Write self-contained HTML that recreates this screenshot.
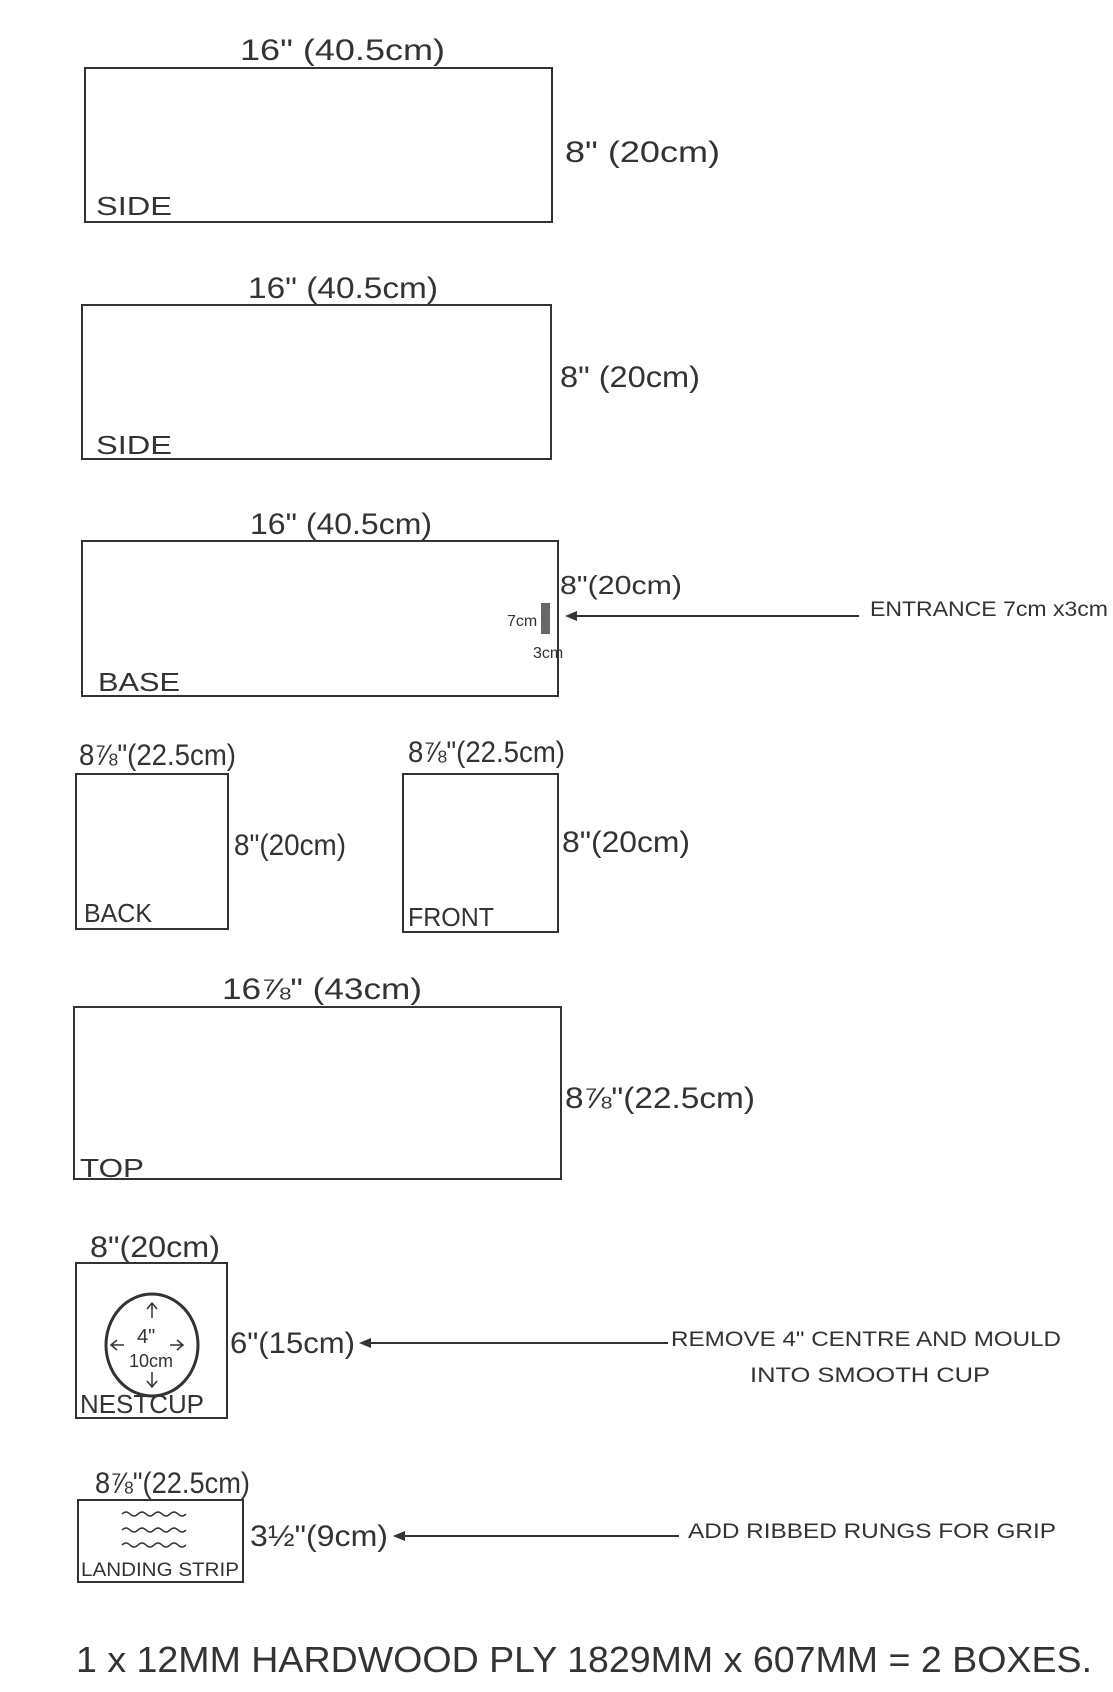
<!DOCTYPE html>
<html><head><style>html,body{margin:0;padding:0;background:#fff}svg{display:block}</style></head>
<body>
<svg width="1113" height="1692" viewBox="0 0 1113 1692" xmlns="http://www.w3.org/2000/svg" font-family="'Liberation Sans', sans-serif" fill="#333">
<g fill="none" stroke="#333" stroke-width="2">
<rect x="85" y="68" width="467" height="154"/>
<rect x="82" y="305" width="469" height="154"/>
<rect x="82" y="541" width="476" height="155"/>
<rect x="76" y="774" width="152" height="155"/>
<rect x="403" y="774" width="155" height="158"/>
<rect x="74" y="1007" width="487" height="172"/>
<rect x="76" y="1263" width="151" height="155"/>
<rect x="78" y="1500" width="165" height="82"/>
<ellipse cx="152" cy="1345" rx="46" ry="51" stroke-width="3"/>
<line x1="859" y1="616" x2="570" y2="616"/>
<line x1="668" y1="1343" x2="365" y2="1343"/>
<line x1="679" y1="1536" x2="398" y2="1536"/>
<path d="M122 1514 q4-4 8 0 t8 0 t8 0 t8 0 t8 0 t8 0 t8 0 t8 0 M122 1530 q4-4 8 0 t8 0 t8 0 t8 0 t8 0 t8 0 t8 0 t8 0 M122 1545 q4-4 8 0 t8 0 t8 0 t8 0 t8 0 t8 0 t8 0 t8 0" stroke-width="1.5"/>
<path d="M152 1318 v-14 M147 1309 l5-6 5 6 M152 1372 v14 M147 1381 l5 6 5-6 M124 1345 h-12 M117 1340 l-6 5 6 5 M170 1345 h12 M177 1340 l6 5-6 5" stroke-width="1.5"/>
</g>
<rect x="541" y="603" width="9" height="31" fill="#666"/>
<path d="M565 616 l12 -5 v10z"/>
<path d="M359 1343 l12 -5 v10z"/>
<path d="M393 1536 l12 -5 v10z"/>
<g font-size="30" lengthAdjust="spacingAndGlyphs">
<text x="240" y="60" textLength="205" lengthAdjust="spacingAndGlyphs">16" (40.5cm)</text>
<text x="565" y="162" textLength="155" lengthAdjust="spacingAndGlyphs">8" (20cm)</text>
<text x="248" y="298" textLength="190" lengthAdjust="spacingAndGlyphs">16" (40.5cm)</text>
<text x="560" y="387" textLength="140" lengthAdjust="spacingAndGlyphs">8" (20cm)</text>
<text x="250" y="534" textLength="182" lengthAdjust="spacingAndGlyphs">16" (40.5cm)</text>
<text x="79" y="765" textLength="157" lengthAdjust="spacingAndGlyphs">8⅞"(22.5cm)</text>
<text x="408" y="762" textLength="157" lengthAdjust="spacingAndGlyphs">8⅞"(22.5cm)</text>
<text x="234" y="855" textLength="112" lengthAdjust="spacingAndGlyphs">8"(20cm)</text>
<text x="562" y="852" textLength="128" lengthAdjust="spacingAndGlyphs">8"(20cm)</text>
<text x="222" y="999" textLength="200" lengthAdjust="spacingAndGlyphs">16⅞" (43cm)</text>
<text x="565" y="1108" textLength="190" lengthAdjust="spacingAndGlyphs">8⅞"(22.5cm)</text>
<text x="90" y="1257" textLength="130" lengthAdjust="spacingAndGlyphs">8"(20cm)</text>
<text x="230" y="1353" textLength="125" lengthAdjust="spacingAndGlyphs">6"(15cm)</text>
<text x="95" y="1493" textLength="155" lengthAdjust="spacingAndGlyphs">8⅞"(22.5cm)</text>
<text x="250" y="1546" textLength="138" lengthAdjust="spacingAndGlyphs">3½"(9cm)</text>
</g>
<text x="560" y="594" font-size="26" textLength="122" lengthAdjust="spacingAndGlyphs">8"(20cm)</text>
<text x="507" y="626" font-size="16">7cm</text>
<text x="533" y="658" font-size="16">3cm</text>
<g font-size="26">
<text x="96" y="215" textLength="76" lengthAdjust="spacingAndGlyphs">SIDE</text>
<text x="96" y="454" textLength="76" lengthAdjust="spacingAndGlyphs">SIDE</text>
<text x="98" y="691" textLength="82" lengthAdjust="spacingAndGlyphs">BASE</text>
<text x="84" y="922" textLength="68" lengthAdjust="spacingAndGlyphs">BACK</text>
<text x="408" y="926" textLength="86" lengthAdjust="spacingAndGlyphs">FRONT</text>
<text x="80" y="1177" textLength="64" lengthAdjust="spacingAndGlyphs">TOP</text>
<text x="80" y="1413" textLength="124" lengthAdjust="spacingAndGlyphs">NESTCUP</text>
<text x="81" y="1576" font-size="19" textLength="158" lengthAdjust="spacingAndGlyphs">LANDING STRIP</text>
</g>
<g font-size="21">
<text x="870" y="616" textLength="238" lengthAdjust="spacingAndGlyphs">ENTRANCE 7cm x3cm</text>
<text x="671" y="1346" textLength="390" lengthAdjust="spacingAndGlyphs">REMOVE 4" CENTRE AND MOULD</text>
<text x="750" y="1382" textLength="240" lengthAdjust="spacingAndGlyphs">INTO SMOOTH CUP</text>
<text x="688" y="1538" textLength="368" lengthAdjust="spacingAndGlyphs">ADD RIBBED RUNGS FOR GRIP</text>
</g>
<text x="137" y="1343" font-size="20">4"</text>
<text x="129" y="1367" font-size="18">10cm</text>
<text x="76" y="1672" font-size="36" textLength="1016" lengthAdjust="spacingAndGlyphs">1  x  12MM  HARDWOOD PLY  1829MM x 607MM = 2 BOXES.</text>
</svg>
</body></html>
